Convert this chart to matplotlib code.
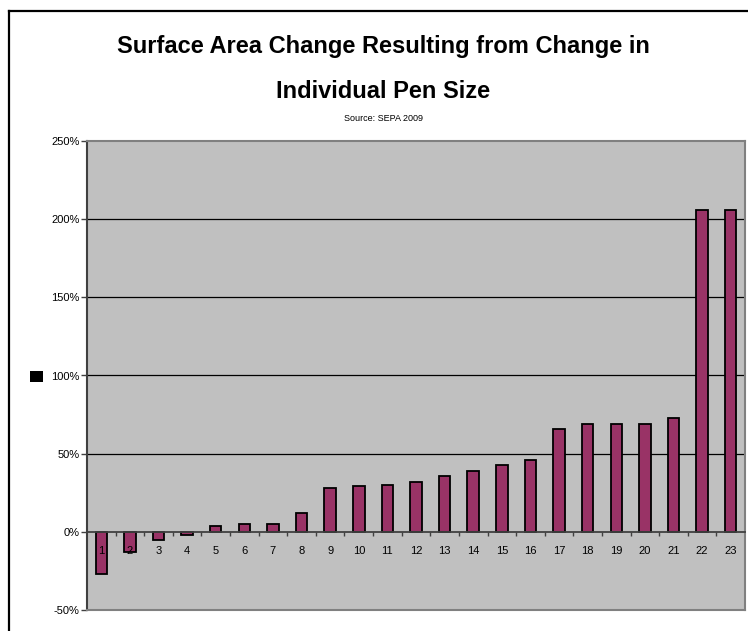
import matplotlib
matplotlib.use("Agg")
import matplotlib.pyplot as plt
from matplotlib.patches import Rectangle
from matplotlib.lines import Line2D
from matplotlib.ticker import FuncFormatter, FixedLocator, NullFormatter

plt.rcParams['font.family'] = ['Liberation Sans', 'DejaVu Sans']

# Surface area change per pen-size scenario (fraction, 1.0 = 100%)
scenarios = list(range(1, 24))
area_change = [-0.27, -0.13, -0.05, -0.02, 0.04, 0.05, 0.05, 0.12, 0.28, 0.29,
               0.30, 0.32, 0.36, 0.39, 0.43, 0.46, 0.66, 0.69, 0.69, 0.69,
               0.73, 2.06, 2.06]
y_ticks = [-0.5, 0.0, 0.5, 1.0, 1.5, 2.0, 2.5]

title_line1 = "Surface Area Change Resulting from Change in"
title_line2 = "Individual Pen Size"
source_text = "Source: SEPA 2009"

W, H = 748, 631
fig = plt.figure(figsize=(W / 100, H / 100), dpi=100)

# outer chart frame
fig.add_artist(Line2D([9 / W, 1.0], [1 - 11 / H, 1 - 11 / H], color='black', lw=1.6,
                      transform=fig.transFigure))
fig.add_artist(Line2D([9 / W, 9 / W], [0.0, 1 - 11 / H], color='black', lw=1.6,
                      transform=fig.transFigure))

fig.text(0.512, 1 - 53 / H, title_line1, ha='center', va='baseline',
         fontsize=17, fontweight='bold')
fig.text(0.512, 1 - 98 / H, title_line2, ha='center', va='baseline',
         fontsize=17, fontweight='bold')
fig.text(0.513, 1 - 121 / H, source_text, ha='center', va='baseline', fontsize=6.5)

# legend key with no label
fig.add_artist(Rectangle((30 / W, 1 - 382 / H), 12.5 / W, 11 / H, facecolor='black',
                         edgecolor='none', transform=fig.transFigure))

left, right, top, bottom = 87, 745, 141, 610
ax = fig.add_axes([left / W, 1 - bottom / H, (right - left) / W, (bottom - top) / H])
ax.set_facecolor('#C0C0C0')

ax.bar(scenarios, area_change, width=0.4, color='#993366', edgecolor='black',
       linewidth=1.3, zorder=3)

ax.set_xlim(0.5, 23.5)
ax.set_ylim(-0.5, 2.5)
ax.set_yticks(y_ticks)
ax.yaxis.set_major_formatter(FuncFormatter(lambda v, p: f"{v * 100:.0f}%"))
ax.tick_params(axis='y', length=4, width=1, pad=1.5, labelsize=8, color='#404040')

for v in y_ticks[2:-1]:
    ax.axhline(v, color='black', lw=0.9, zorder=1)

for side in ['top', 'right', 'bottom']:
    ax.spines[side].set_color('#808080')
    ax.spines[side].set_linewidth(1.5)
ax.spines['left'].set_color('#404040')
ax.spines['left'].set_linewidth(1.5)
ax.set_xticks([])

# category axis running along the zero line, drawn above the bars
zero_pos = (0 - (-0.5)) / 3.0
sec = ax.secondary_xaxis(zero_pos)
sec.set_zorder(5)
sec.spines['bottom'].set_color('#404040')
sec.spines['bottom'].set_linewidth(1.3)
sec.set_xticks(scenarios)
sec.set_xticklabels([str(s) for s in scenarios])
sec.xaxis.set_minor_locator(FixedLocator([s + 0.5 for s in scenarios[:-1]]))
sec.xaxis.set_minor_formatter(NullFormatter())
sec.tick_params(axis='x', which='major', length=0, pad=10, labelsize=8)
sec.tick_params(axis='x', which='minor', length=3, width=1, color='#404040')

fig.savefig('out.png', dpi=100)
